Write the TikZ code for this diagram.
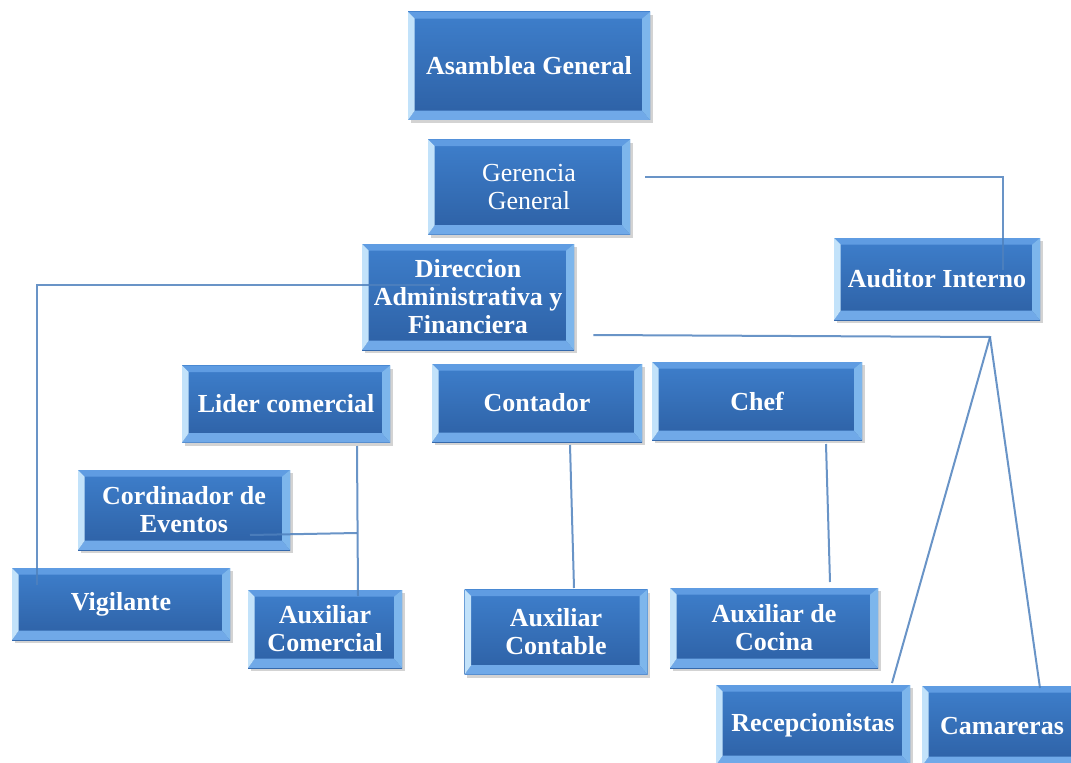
\documentclass[tikz,border=0pt]{standalone}
\usepackage{fontspec}
\setmainfont{Liberation Serif}
\usetikzlibrary{shadows}

\definecolor{azulAlto}{HTML}{3E7FCC}
\definecolor{azulBajo}{HTML}{2D60A4}
\definecolor{biselIzq}{HTML}{C2E2FA}
\definecolor{biselSup}{HTML}{5F9CE2}
\definecolor{biselInf}{HTML}{70A9E8}
\definecolor{biselDer}{HTML}{7DB6EC}
\definecolor{lineaAzul}{HTML}{4F81BD}

\tikzset{
	tam/.style 2 args={minimum width=#1*0.75pt, minimum height=#2*0.75pt},
	puesto/.style={rectangle, draw=none, text=white, align=center, inner sep=0pt,
		font=\fontsize{19.5}{21}\selectfont\bfseries,
		top color=azulAlto, bottom color=azulBajo,
		drop shadow={shadow xshift=2pt, shadow yshift=-2.5pt, opacity=.35},
		path picture={
			\coordinate (pa) at (path picture bounding box.north west);
			\coordinate (pb) at (path picture bounding box.north east);
			\coordinate (pc) at (path picture bounding box.south east);
			\coordinate (pd) at (path picture bounding box.south west);
			\fill[biselSup] (pa) -- (pb) -- ([shift={(-6pt,-5pt)}]pb) -- ([shift={(5pt,-5pt)}]pa) -- cycle;
			\fill[biselInf] (pd) -- (pc) -- ([shift={(-6pt,7pt)}]pc) -- ([shift={(5pt,7pt)}]pd) -- cycle;
			\fill[biselIzq] (pa) -- (pd) -- ([shift={(5pt,7pt)}]pd) -- ([shift={(5pt,-5pt)}]pa) -- cycle;
			\fill[biselDer] (pb) -- (pc) -- ([shift={(-6pt,7pt)}]pc) -- ([shift={(-6pt,-5pt)}]pb) -- cycle;
		}},
	linea/.style={draw=lineaAzul, line width=1.5pt, opacity=.85},
}

\begin{document}
\begin{tikzpicture}[x=0.75pt, y=-0.75pt]
	\useasboundingbox (0,0) rectangle (1071,763);
	\clip (0,0) rectangle (1071,763);
	
	% puestos
	\node[puesto, tam={242}{108}] (asamblea) at (529,66) {Asamblea General};
	\node[puesto, tam={202}{95}, font=\fontsize{19.5}{21}\selectfont\mdseries] (gerencia) at (529,187) {Gerencia\\General};
	\node[puesto, tam={212}{106}] (direccion) at (468,297) {Direccion\\Administrativa y\\Financiera};
	\node[puesto, tam={206}{82}] (auditor) at (937,279) {Auditor Interno};
	
	\node[puesto, tam={208}{77}] (lider) at (286,404) {Lider comercial};
	\node[puesto, tam={210}{78}] (contador) at (537,403) {Contador};
	\node[puesto, tam={210}{78}] (chef) at (757,401) {Chef};
	\node[puesto, tam={212}{80}] (cordinador) at (184,510) {Cordinador de\\Eventos};
	
	\node[puesto, tam={218}{72}] (vigilante) at (121,604) {Vigilante};
	\node[puesto, tam={154}{78}] (auxcom) at (325,629) {Auxiliar\\Comercial};
	\node[puesto, tam={183}{85}] (auxcont) at (556,632) {Auxiliar\\Contable};
	\node[puesto, tam={208}{80}] (auxcoc) at (774,628) {Auxiliar de\\Cocina};
	\node[puesto, tam={194}{80}] (recep) at (813,725) {Recepcionistas};
	\node[puesto, tam={160}{80}] (camareras) at (1002,726) {Camareras};
	
	% conexiones
	\draw[linea] ([shift={(15,-10)}]gerencia.east) -| ([shift={(66,-9)}]auditor.center);
	\draw[linea] ([shift={(-28,-12)}]direccion.center) -| ([shift={(-84,-19)}]vigilante.center);
	
	\coordinate (vertice) at (990,337);
	\draw[linea] ([shift={(19,38)}]direccion.east) -- (vertice) -- ([shift={(79,-42)}]recep.center);
	\draw[linea] (vertice) -- ([shift={(38,-38)}]camareras.center);
	
	\draw[linea] ([shift={(71,42)}]lider.center) -- ([shift={(33,-33)}]auxcom.center);
	\draw[linea] ([shift={(66,25)}]cordinador.center) -- ([shift={(32,-96)}]auxcom.center);
	\draw[linea] ([shift={(33,42)}]contador.center) -- ([shift={(18,-44)}]auxcont.center);
	\draw[linea] ([shift={(69,43)}]chef.center) -- ([shift={(56,-46)}]auxcoc.center);
	
\end{tikzpicture}
\end{document}
